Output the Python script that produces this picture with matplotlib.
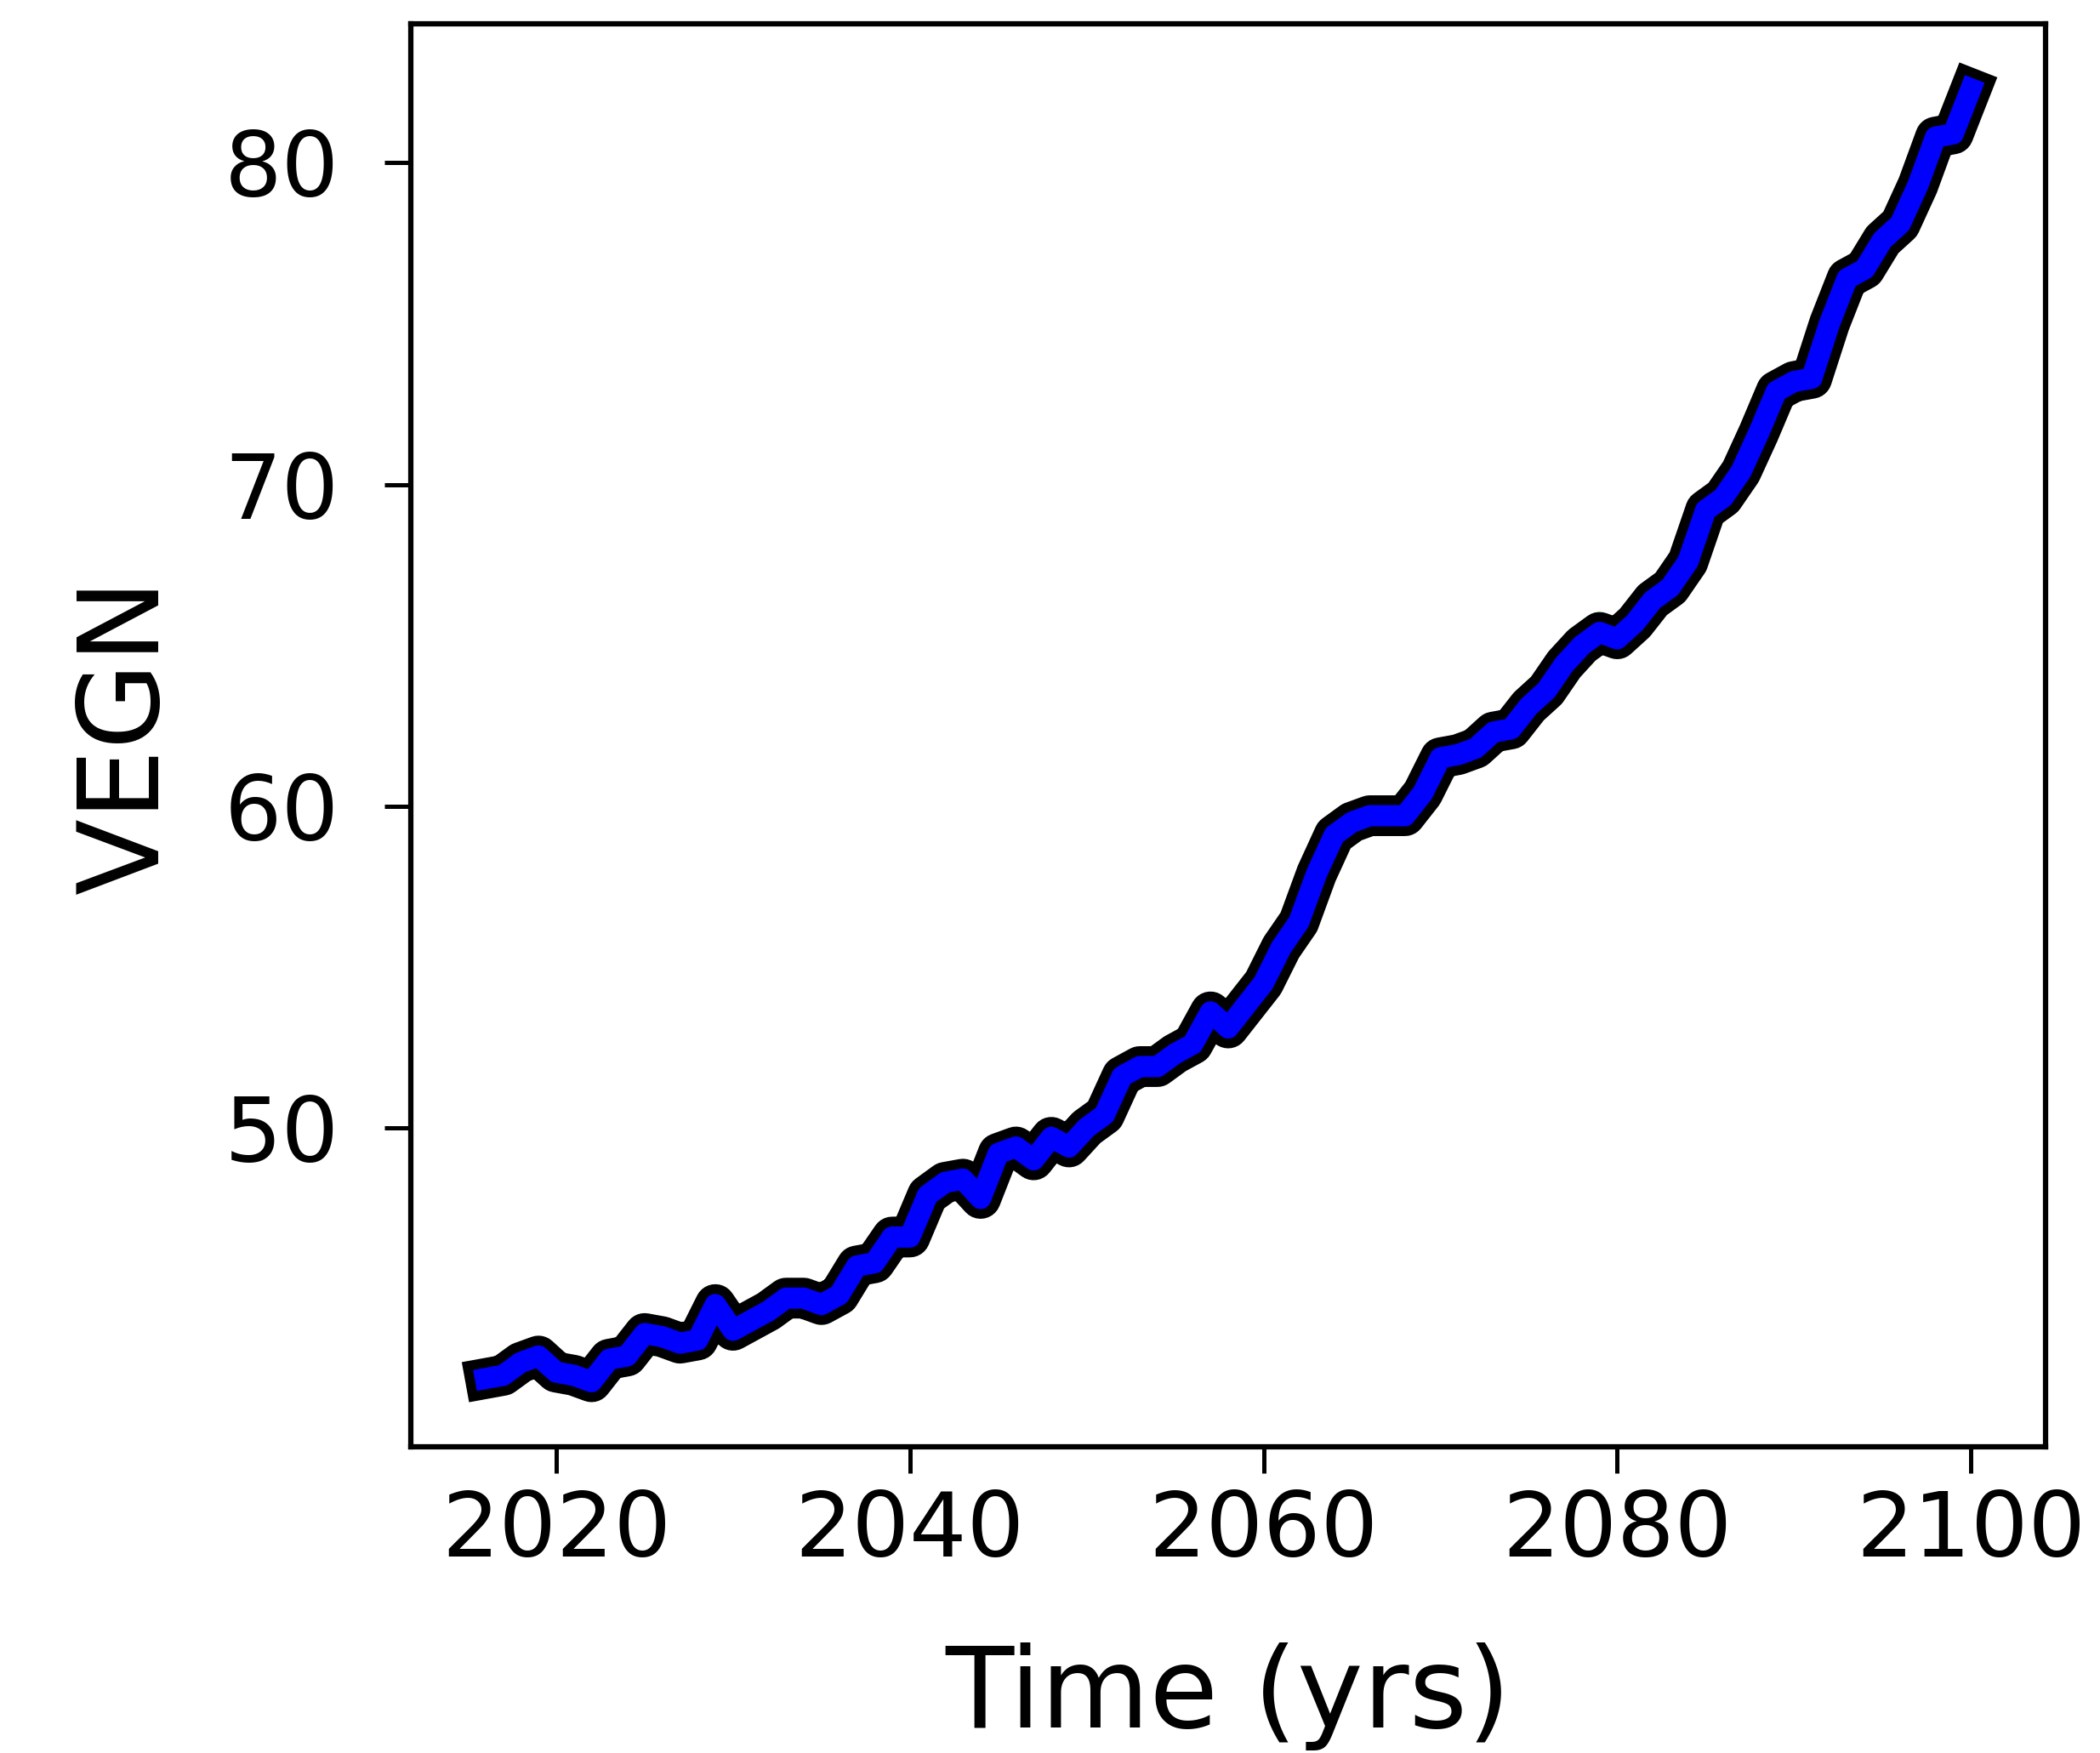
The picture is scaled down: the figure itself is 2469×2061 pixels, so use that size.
import matplotlib
matplotlib.use('Agg')
import matplotlib.pyplot as plt
import matplotlib.patheffects as pe

# yearly VEGN values
years = list(range(2016, 2101))
vegn = [42.2, 42.3, 42.7, 42.9, 42.4, 42.3, 42.1, 42.8, 42.9, 43.6,
        43.5, 43.3, 43.4, 44.5, 43.7, 44.0, 44.3, 44.7, 44.7, 44.5,
        44.8, 45.7, 45.8, 46.6, 46.6, 47.9, 48.3, 48.4, 47.8, 49.2,
        49.4, 49.0, 49.7, 49.4, 50.0, 50.4, 51.6, 51.9, 51.9, 52.3,
        52.6, 53.6, 53.1, 53.8, 54.5, 55.6, 56.4, 57.9, 59.1, 59.5,
        59.7, 59.7, 59.7, 60.4, 61.5, 61.6, 61.8, 62.3, 62.4, 63.1,
        63.6, 64.4, 65.0, 65.4, 65.2, 65.7, 66.4, 66.8, 67.6, 69.2,
        69.6, 70.4, 71.6, 72.9, 73.2, 73.3, 75.0, 76.4, 76.7, 77.6,
        78.1, 79.3, 80.8, 80.9, 82.3]
yticks = [50, 60, 70, 80]
xticks = [2020, 2040, 2060, 2080, 2100]

fig = plt.figure(figsize=(2469 / 300, 2061 / 300), dpi=300)
ax = fig.add_axes([0.1958, 0.1749, 0.7781, 0.8113])

# blue line with a thick black outline
ax.plot(years, vegn, color='blue', linewidth=6.0,
        path_effects=[pe.Stroke(linewidth=11.5, foreground='black'), pe.Normal()])

ax.set_xticks(xticks)
ax.set_yticks(yticks)
ax.tick_params(axis='both', labelsize=25.5, length=7.4, width=1.2)
ax.tick_params(axis='x', pad=4.5)
ax.tick_params(axis='y', pad=13)
for s in ax.spines.values():
    s.set_linewidth(1.5)

ax.set_xlabel('Time (yrs)', fontsize=31.5, labelpad=19)
ax.set_ylabel('VEGN', fontsize=31.5, labelpad=12)

fig.savefig('out.png', dpi=300)
